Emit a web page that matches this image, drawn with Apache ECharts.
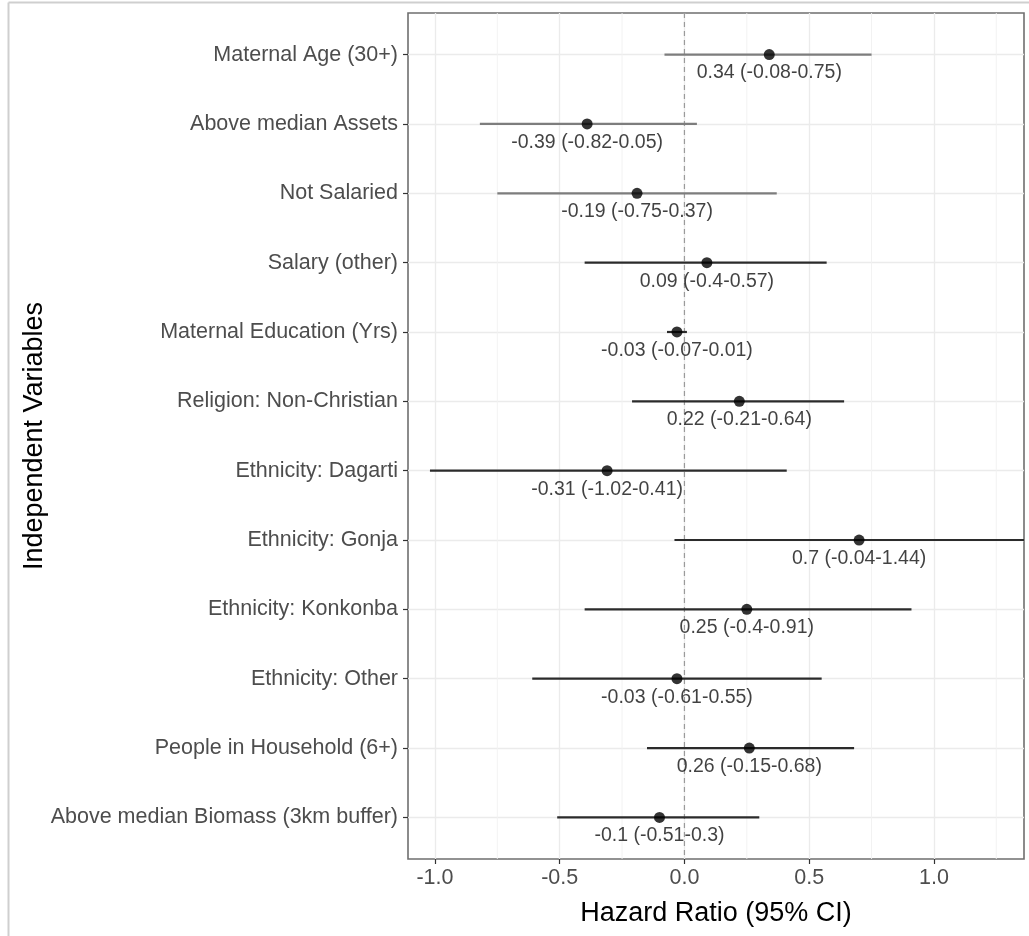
<!DOCTYPE html>
<html>
<head>
<meta charset="utf-8">
<script src="https://cdn.jsdelivr.net/npm/echarts@6/dist/echarts.min.js"></script>
<style>
  html, body { margin: 0; padding: 0; background: #ffffff; }
  #chart { width: 1029px; height: 936px; }
</style>
</head>
<body>
<div id="chart"></div>
<script>
// Independent variables, top to bottom
const categories = [
  'Maternal Age (30+)',
  'Above median Assets',
  'Not Salaried',
  'Salary (other)',
  'Maternal Education (Yrs)',
  'Religion: Non-Christian',
  'Ethnicity: Dagarti',
  'Ethnicity: Gonja',
  'Ethnicity: Konkonba',
  'Ethnicity: Other',
  'People in Household (6+)',
  'Above median Biomass (3km buffer)'
];
// Point estimates and 95% confidence bounds
const estimates = [0.34, -0.39, -0.19, 0.09, -0.03, 0.22, -0.31, 0.7, 0.25, -0.03, 0.26, -0.1];
const lowerCI   = [-0.08, -0.82, -0.75, -0.4, -0.07, -0.21, -1.02, -0.04, -0.4, -0.61, -0.15, -0.51];
const upperCI   = [0.75, 0.05, 0.37, 0.57, 0.01, 0.64, 0.41, 1.44, 0.91, 0.55, 0.68, 0.3];
// Horizontal axis ticks
const xTicks = [-1.0, -0.5, 0.0, 0.5, 1.0];
const xMinorTicks = [-0.75, -0.25, 0.25, 0.75, 1.25];
const referenceLine = [0];

const FONT = '"Liberation Sans", Arial, Helvetica, sans-serif';
const rowIndex = categories.map((_, i) => i);
const MUTED_ROWS = 3; // the first rows' whiskers are drawn in a lighter grey

const chart = echarts.init(document.getElementById('chart'), null, { renderer: 'canvas' });

// vertical line spanning the whole plotting panel at an x value
function verticalLine(color, width, dash) {
  return function (params, api) {
    const cs = params.coordSys;
    const x = api.coord([api.value(0), 0])[0];
    return {
      type: 'line',
      shape: { x1: x, y1: cs.y, x2: x, y2: cs.y + cs.height },
      style: { stroke: color, lineWidth: width, lineDash: dash || null }
    };
  };
}

const option = {
  backgroundColor: '#ffffff',
  animation: false,
  textStyle: { fontFamily: FONT },
  grid: {
    left: 408, right: 5, top: 13, bottom: 77,
    show: true,
    backgroundColor: '#ffffff',
    borderColor: '#6f6f6f',
    borderWidth: 1.6,
    containLabel: false,
    outerBoundsMode: 'none'
  },
  xAxis: {
    type: 'value',
    min: -1.108,
    max: 1.361,
    name: 'Hazard Ratio (95% CI)',
    nameLocation: 'middle',
    nameGap: 41,
    nameMoveOverlap: false,
    nameTextStyle: { fontFamily: FONT, fontSize: 27, color: '#000000' },
    axisLine: { show: false, onZero: false },
    axisTick: { show: true, length: 5, customValues: xTicks, lineStyle: { color: '#333333', width: 1.2 } },
    axisLabel: {
      customValues: xTicks,
      formatter: v => v.toFixed(1),
      fontFamily: FONT, fontSize: 21.5, color: '#4d4d4d', margin: 8
    },
    splitLine: { show: true, lineStyle: { color: '#ebebeb', width: 1.3 } },
    minorSplitLine: { show: false }
  },
  yAxis: {
    type: 'value',
    inverse: true,
    min: -0.6,
    max: 11.6,
    name: 'Independent Variables',
    nameLocation: 'middle',
    nameGap: 360,
    nameMoveOverlap: false,
    nameTextStyle: { fontFamily: FONT, fontSize: 27, color: '#000000' },
    axisLine: { show: false, onZero: false },
    axisTick: { show: true, length: 5, customValues: rowIndex, lineStyle: { color: '#333333', width: 1.2 } },
    axisLabel: {
      customValues: rowIndex,
      formatter: v => categories[Math.round(v)] || '',
      fontFamily: FONT, fontSize: 21.5, color: '#4d4d4d', margin: 10
    },
    splitLine: { show: true, lineStyle: { color: '#ebebeb', width: 1.3 } }
  },
  graphic: [
    { type: 'line', shape: { x1: 8.5, y1: 2.5, x2: 1029, y2: 2.5 }, style: { stroke: '#cfcfcf', lineWidth: 2 }, silent: true },
    { type: 'line', shape: { x1: 8.5, y1: 2.5, x2: 8.5, y2: 936 }, style: { stroke: '#cfcfcf', lineWidth: 2 }, silent: true }
  ],
  series: [
    {
      // minor vertical grid lines
      type: 'custom',
      z: 0,
      silent: true,
      clip: true,
      data: xMinorTicks.map(v => [v]),
      encode: { x: 0 },
      renderItem: verticalLine('#f1f1f1', 0.9)
    },
    {
      // dashed reference line at zero
      type: 'custom',
      z: 1,
      silent: true,
      data: referenceLine.map(v => [v]),
      encode: { x: 0 },
      renderItem: verticalLine('#9a9a9a', 1.2, [5, 4])
    },
    {
      // confidence interval whiskers
      type: 'custom',
      z: 2,
      silent: true,
      data: rowIndex.map(i => [lowerCI[i], upperCI[i], i]),
      encode: { x: [0, 1], y: 2 },
      renderItem: function (params, api) {
        const cs = params.coordSys;
        const row = api.value(2);
        const a = api.coord([api.value(0), row]);
        const b = api.coord([api.value(1), row]);
        const x1 = Math.max(a[0], cs.x);
        const x2 = Math.min(b[0], cs.x + cs.width);
        return {
          type: 'line',
          shape: { x1: x1, y1: a[1], x2: x2, y2: b[1] },
          style: { stroke: row < MUTED_ROWS ? '#7d7d7d' : '#2b2b2b', lineWidth: 2.2 }
        };
      }
    },
    {
      // point estimates with their text
      type: 'scatter',
      z: 3,
      symbol: 'circle',
      symbolSize: 11,
      itemStyle: { color: '#000000' },
      data: rowIndex.map(i => [estimates[i], i]),
      label: {
        show: true,
        position: 'bottom',
        distance: 3,
        formatter: p => `${estimates[p.dataIndex]} (${lowerCI[p.dataIndex]}-${upperCI[p.dataIndex]})`,
        fontFamily: FONT,
        fontSize: 19.5,
        color: '#111111'
      }
    }
  ]
};

chart.setOption(option);
</script>
</body>
</html>
